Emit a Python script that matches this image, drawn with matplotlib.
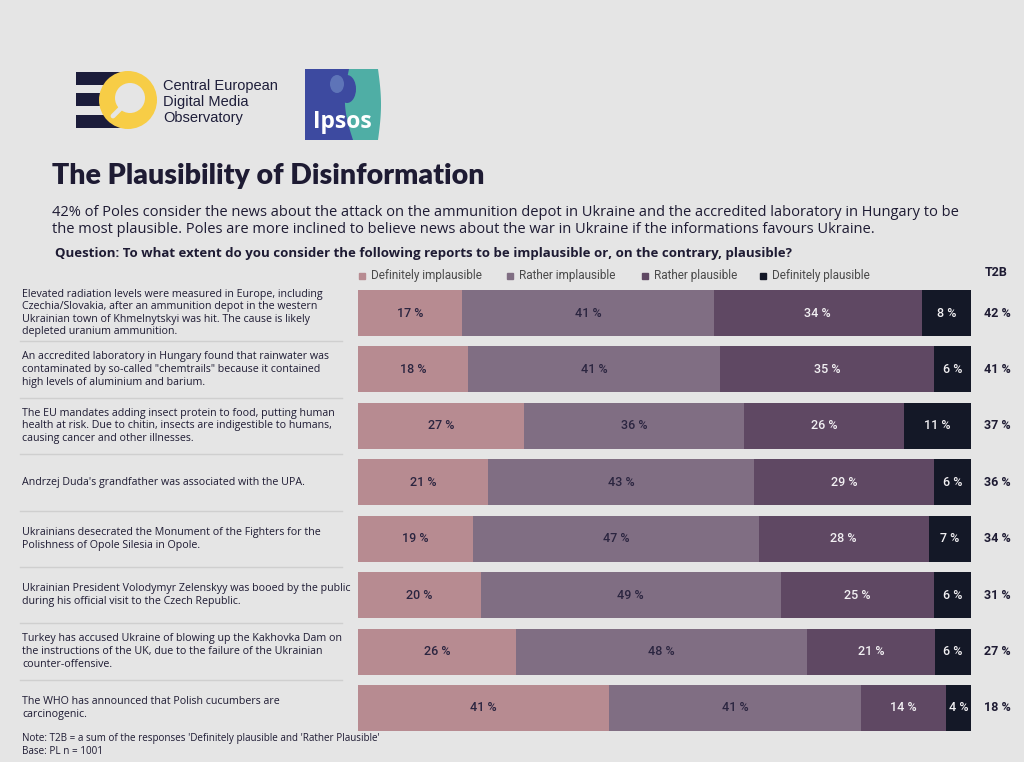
import matplotlib
matplotlib.use('Agg')
import matplotlib.pyplot as plt
import matplotlib.patches as mpatches
from matplotlib.transforms import blended_transform_factory
import numpy as np

# data
statements = [
    'Elevated radiation levels were measured in Europe, including\nCzechia/Slovakia, after an ammunition depot in the western\nUkrainian town of Khmelnytskyi was hit. The cause is likely\ndepleted uranium ammunition.',
    'An accredited laboratory in Hungary found that rainwater was\ncontaminated by so-called "chemtrails" because it contained\nhigh levels of aluminium and barium.',
    'The EU mandates adding insect protein to food, putting human\nhealth at risk. Due to chitin, insects are indigestible to humans,\ncausing cancer and other illnesses.',
    "Andrzej Duda's grandfather was associated with the UPA.",
    'Ukrainians desecrated the Monument of the Fighters for the\nPolishness of Opole Silesia in Opole.',
    'Ukrainian President Volodymyr Zelenskyy was booed by the public\nduring his official visit to the Czech Republic.',
    'Turkey has accused Ukraine of blowing up the Kakhovka Dam on\nthe instructions of the UK, due to the failure of the Ukrainian\ncounter-offensive.',
    'The WHO has announced that Polish cucumbers are\ncarcinogenic.',
]
categories = ['Definitely implausible', 'Rather implausible', 'Rather plausible', 'Definitely plausible']
def_impl = [17, 18, 27, 21, 19, 20, 26, 41]
rath_impl = [41, 41, 36, 43, 47, 49, 48, 41]
rath_pl = [34, 35, 26, 29, 28, 25, 21, 14]
def_pl = [8, 6, 11, 6, 7, 6, 6, 4]
t2b = [42, 41, 37, 36, 34, 31, 27, 18]

colors = ['#b78b91', '#806e83', '#5f4863', '#141827']
label_colors = ['#2b2540', '#2b2540', '#f2f0f3', '#f2f0f3']
bg = '#e5e5e5'
dark = '#1e1b33'

W, H = 1024, 762
fig = plt.figure(figsize=(W / 100, H / 100), dpi=100, facecolor=bg)

def fx(px):
    return px / W

def fy(py):
    return 1 - py / H

# ---- logos ----
lax = fig.add_axes([0, 0, 1, 1], facecolor='none')
lax.set_xlim(0, W)
lax.set_ylim(H, 0)
lax.axis('off')
for y0 in [72, 93, 115]:
    lax.add_patch(mpatches.Rectangle((76, y0), 55, 13, color='#1b1c3a', lw=0))
lax.add_patch(mpatches.Circle((128, 100), 29, color='#f7cd46', lw=0))
lax.add_patch(mpatches.Circle((130, 98), 15, color=bg, lw=0))
lax.plot([121, 113], [108, 116], color=bg, lw=3.5, solid_capstyle='round')
fig.text(fx(163), fy(102), 'Central European\nDigital Media\nObservatory', fontsize=10.5,
         family='Liberation Sans', color='#1e1e3a', va='center', ha='left', linespacing=1.15)

# ipsos box with a slightly curved right edge
t = np.linspace(0, 1, 30)
right_edge = [(378 + 3 * np.sin(np.pi * s), 69 + 71 * s) for s in t]
lax.add_patch(mpatches.Polygon([(305, 69)] + right_edge + [(305, 140)],
                               closed=True, color='#4faea5', lw=0))
wave = [(349 - 6 * np.sin(np.pi * s) + 4 * s, 69 + 71 * s) for s in t]
lax.add_patch(mpatches.Polygon([(305, 69)] + wave + [(305, 140)],
                               closed=True, color='#3d4aa0', lw=0))
lax.add_patch(mpatches.Ellipse((347, 89), 18, 28, color='#3d4aa0', lw=0))
lax.add_patch(mpatches.Ellipse((337, 84), 14, 18, color='#7f9fd0', lw=0, alpha=0.5))
lax.text(342, 122, 'Ipsos', fontsize=16.5, color='white', family='Open Sans', weight='bold',
         ha='center', va='center')

# ---- titles ----
fig.text(fx(52), fy(176), 'The Plausibility of Disinformation', fontsize=20.5, weight='heavy',
         family='Lato', color=dark, va='center')
fig.text(fx(52), fy(221),
         '42% of Poles consider the news about the attack on the ammunition depot in Ukraine and the accredited laboratory in Hungary to be\n'
         'the most plausible. Poles are more inclined to believe news about the war in Ukraine if the informations favours Ukraine.',
         fontsize=10.5, family='Open Sans', color=dark, va='center', linespacing=1.12)
fig.text(fx(55), fy(254), 'Question: To what extent do you consider the following reports to be implausible or, on the contrary, plausible?',
         fontsize=9.5, weight='bold', family='Open Sans', color=dark, va='center')

# ---- legend ----
leg_x = [362, 510, 645, 763]
for lx, cat, col in zip(leg_x, categories, colors):
    fig.patches.append(mpatches.Rectangle((fx(lx - 3), fy(279)), 6 / W, 6 / H, color=col,
                                          transform=fig.transFigure, figure=fig))
    fig.text(fx(lx + 9), fy(276), cat, fontsize=8.5, family='Roboto', color='#4a4a4a', va='center')
fig.text(fx(996), fy(273), 'T2B', fontsize=9, weight='bold', family='Roboto', color=dark,
         va='center', ha='center')

# ---- bars ----
ax = fig.add_axes([fx(358), fy(736.2), 613 / W, 451.4 / H])
ax.set_xlim(0, 100)
ax.set_ylim(7.5, -0.5)
ax.axis('off')

vals = np.array([def_impl, rath_impl, rath_pl, def_pl], dtype=float)
totals = vals.sum(axis=0)
shares = vals / totals * 100
y = np.arange(len(statements))
left = np.zeros(len(statements))
for k in range(4):
    ax.barh(y, shares[k], left=left, height=0.815, color=colors[k], lw=0)
    for i in range(len(statements)):
        ax.text(left[i] + shares[k][i] / 2, y[i], '%d %%' % vals[k][i], ha='center', va='center',
                fontsize=9, weight='medium', family='Roboto', color=label_colors[k])
    left = left + shares[k]

tr = blended_transform_factory(fig.transFigure, ax.transData)
for i, s in enumerate(statements):
    ax.text(fx(22), y[i], s, transform=tr, ha='left', va='center', fontsize=7.65,
            family='Open Sans', color=dark, linespacing=1.2)
    ax.text(fx(997), y[i], '%d %%' % t2b[i], transform=tr, ha='center', va='center',
            fontsize=9, weight='bold', family='Roboto', color=dark)
    if i < len(statements) - 1:
        ax.plot([fx(20), fx(342)], [i + 0.5, i + 0.5], transform=tr, color='#cfcfcf',
                lw=1, clip_on=False)

# ---- footnote ----
fig.text(fx(22), fy(745), "Note: T2B = a sum of the responses 'Definitely plausible and 'Rather Plausible'\nBase: PL n = 1001",
         fontsize=7.1, family='Open Sans', color=dark, va='center', linespacing=1.25)

fig.savefig('out.png', dpi=100, facecolor=bg)
